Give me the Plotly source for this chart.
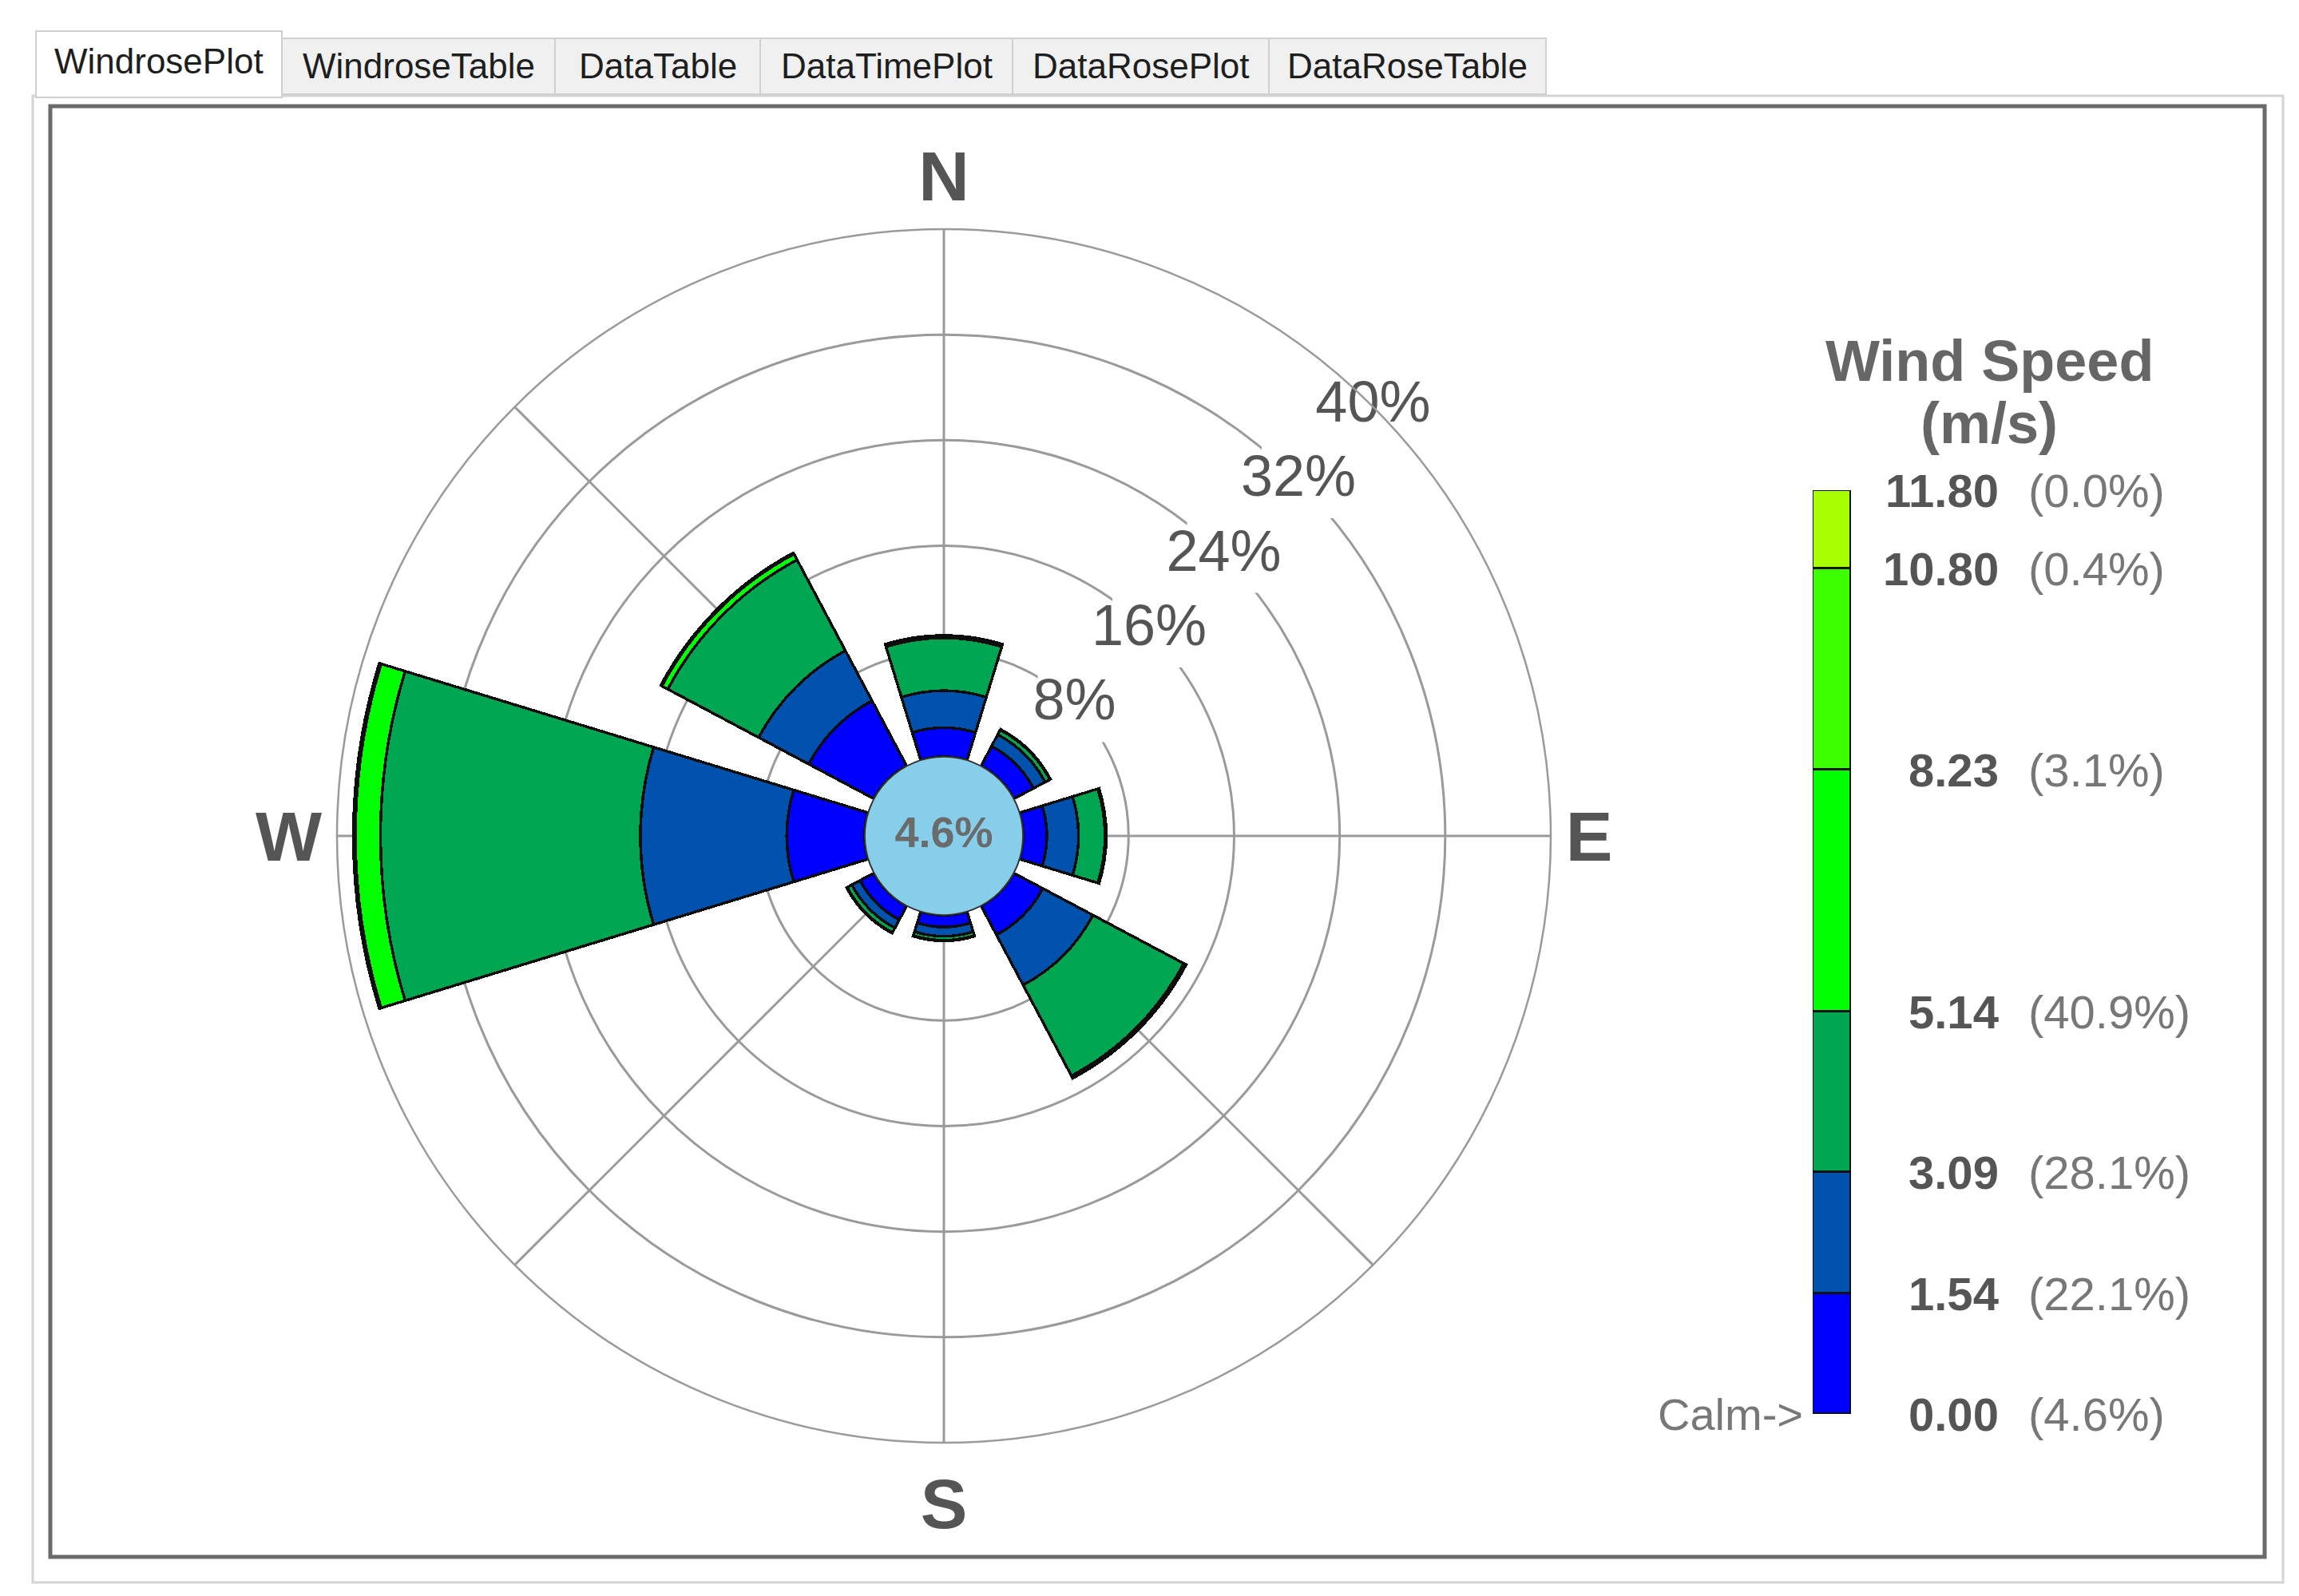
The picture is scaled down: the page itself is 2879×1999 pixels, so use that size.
import plotly.graph_objects as go

# ── Canvas ─────────────────────────────────────────────────────────────────────
W, H = 2879, 1999
FONT = "Liberation Sans, Arial, sans-serif"

# ── Data ───────────────────────────────────────────────────────────────────────
DIRECTIONS = [0, 45, 90, 135, 180, 225, 270, 315]          # N NE E SE S SW W NW
SPEED_EDGES = [0.00, 1.54, 3.09, 5.14, 8.23, 10.80, 11.80]  # m/s
EDGE_PCT = [4.6, 22.1, 28.1, 40.9, 3.1, 0.4, 0.0]           # % shown beside each edge
CALM_PCT = 4.6

# frequency (%) per direction for each speed bin
FREQ_000_154 = [2.2, 1.7, 1.8, 2.5, 0.9, 1.2, 5.9, 5.6]
FREQ_154_309 = [2.8, 1.0, 2.4, 4.3, 0.7, 0.7, 11.1, 4.3]
FREQ_309_514 = [4.0, 0.4, 2.0, 7.8, 0.3, 0.4, 19.7, 7.8]
FREQ_514_823 = [0.2, 0.05, 0.1, 0.2, 0.05, 0.05, 1.9, 0.5]
FREQ_823_1080 = [0.0, 0.0, 0.0, 0.0, 0.0, 0.0, 0.15, 0.1]
FREQ_1080_1180 = [0.0, 0.0, 0.0, 0.0, 0.0, 0.0, 0.0, 0.0]
BIN_FREQS = [FREQ_000_154, FREQ_154_309, FREQ_309_514,
             FREQ_514_823, FREQ_823_1080, FREQ_1080_1180]

RADIAL_TICKS = [8, 16, 24, 32, 40]
TABS = ['WindrosePlot', 'WindroseTable', 'DataTable',
        'DataTimePlot', 'DataRosePlot', 'DataRoseTable']

# ── Styles ─────────────────────────────────────────────────────────────────────
BIN_COLORS = ['#0000FF', '#0052AE', '#00A651', '#00FF00', '#3CFF00', '#A8FF00']
GRID = '#9a9a9a'
CALM_OFFSET = 6.0          # radial room kept for the calm disc
R_MAX = 40
CENTER = (1174, 1039)      # px, from top-left
R_PX = 760                 # outer ring radius, px
BAR_WIDTH = 34


def px(x):
    return x / W


def py(y):
    return 1 - y / H


fig = go.Figure()

# ── Rose ───────────────────────────────────────────────────────────────────────
for lo, hi, freqs, col in zip(SPEED_EDGES[:-1], SPEED_EDGES[1:], BIN_FREQS, BIN_COLORS):
    fig.add_trace(go.Barpolar(
        r=freqs, theta=DIRECTIONS, width=[BAR_WIDTH] * len(DIRECTIONS),
        name=f"{lo:.2f}-{hi:.2f}",
        marker=dict(color=col, line=dict(color='#0d0d0d', width=3.5)),
        showlegend=False,
    ))

# calm disc in the middle
calm_size = 2 * R_PX * CALM_OFFSET / (CALM_OFFSET + R_MAX)
fig.add_trace(go.Scatterpolar(
    r=[-CALM_OFFSET], theta=[0], mode='markers+text',
    text=[f"{CALM_PCT:.1f}%"], textposition='middle center',
    textfont=dict(size=54, color='#6b6b6b', family=FONT, weight='bold'),
    marker=dict(size=calm_size, color='#87CEEB', line=dict(color='#333333', width=2)),
    showlegend=False, hoverinfo='skip',
))

# radial labels sitting on the rings (white patch behind each)
fig.add_trace(go.Scatterpolar(
    r=RADIAL_TICKS, theta=[45] * len(RADIAL_TICKS), mode='markers+text',
    text=[f"{v}%" for v in RADIAL_TICKS], textposition='middle center',
    textfont=dict(size=72, color='#555555', family=FONT),
    marker=dict(symbol='square', size=92, color='white'),
    showlegend=False, hoverinfo='skip',
))

# ── Speed scale bar ────────────────────────────────────────────────────────────
for lo, hi, col in zip(SPEED_EDGES[:-1], SPEED_EDGES[1:], BIN_COLORS):
    fig.add_trace(go.Bar(
        x=[0], y=[hi - lo], xaxis='x2', yaxis='y2',
        marker=dict(color=col, line=dict(color='#111111', width=3)),
        showlegend=False, hoverinfo='skip',
    ))

annotations = []
for edge, pct in zip(SPEED_EDGES, EDGE_PCT):
    annotations.append(dict(
        x=px(2497), y=edge, xref='paper', yref='y2', xanchor='right', yanchor='middle',
        text=f"<b>{edge:.2f}</b>", showarrow=False,
        font=dict(size=58, color='#555555', family=FONT)))
    annotations.append(dict(
        x=px(2530), y=edge, xref='paper', yref='y2', xanchor='left', yanchor='middle',
        text=f"({pct:.1f}%)", showarrow=False,
        font=dict(size=58, color='#777777', family=FONT)))
annotations.append(dict(
    x=px(2252), y=SPEED_EDGES[0], xref='paper', yref='y2', xanchor='right', yanchor='middle',
    text="Calm->", showarrow=False, font=dict(size=56, color='#777777', family=FONT)))
annotations.append(dict(
    x=px(2483), y=py(444), xref='paper', yref='paper', xanchor='center', yanchor='middle',
    text="<b>Wind Speed</b>", showarrow=False, font=dict(size=72, color='#666666', family=FONT)))
annotations.append(dict(
    x=px(2483), y=py(522), xref='paper', yref='paper', xanchor='center', yanchor='middle',
    text="<b>(m/s)</b>", showarrow=False, font=dict(size=72, color='#666666', family=FONT)))

# ── Window chrome: tabs and frame ──────────────────────────────────────────────
TAB_EDGES = [37, 345, 687, 944, 1260, 1581, 1928]
shapes = [
    # outer light panel border
    dict(type='rect', xref='paper', yref='paper', x0=px(33), x1=px(2851), y0=py(1974), y1=py(112),
         line=dict(color='#d4d4d4', width=3), fillcolor='white', layer='below'),
    # inner dark frame
    dict(type='rect', xref='paper', yref='paper', x0=px(55), x1=px(2828), y0=py(1942), y1=py(125),
         line=dict(color='#6a6a6a', width=5), layer='below'),
]
for i, tab in enumerate(TABS):
    x0, x1 = TAB_EDGES[i], TAB_EDGES[i + 1]
    selected = i == 0
    shapes.append(dict(
        type='rect', xref='paper', yref='paper', x0=px(x0), x1=px(x1),
        y0=py(114 if selected else 110), y1=py(31 if selected else 40),
        line=dict(color='#d0d0d0', width=2),
        fillcolor='white' if selected else '#f0f0f0', layer='below'))
    annotations.append(dict(
        x=px((x0 + x1) / 2), y=py(68 if selected else 74), xref='paper', yref='paper',
        text=tab, showarrow=False, xanchor='center', yanchor='middle',
        font=dict(size=44, color='#1e1e1e', family=FONT)))

# ── Layout ─────────────────────────────────────────────────────────────────────
cx, cy = CENTER
fig.update_layout(
    width=W, height=H,
    margin=dict(l=0, r=0, t=0, b=0),
    paper_bgcolor='white', plot_bgcolor='white',
    font=dict(family=FONT),
    barmode='stack', bargap=0,
    polar=dict(
        domain=dict(x=[px(cx - R_PX), px(cx + R_PX)], y=[py(cy + R_PX), py(cy - R_PX)]),
        bgcolor='white',
        barmode='stack',
        radialaxis=dict(
            range=[-CALM_OFFSET, R_MAX], tickvals=RADIAL_TICKS[:-1],
            showticklabels=False, ticks='', showline=False, angle=45,
            gridcolor=GRID, gridwidth=2.5,
        ),
        angularaxis=dict(
            rotation=90, direction='clockwise',
            tickmode='array', tickvals=[0, 90, 135, 180, 225, 270, 315],
            ticktext=['<b>N</b>', '<b>E</b>', '', '<b>S</b>', '', '<b>W</b>', ''],
            tickfont=dict(size=88, color='#555555', family=FONT),
            ticks='', showline=True, linecolor=GRID, linewidth=2.5,
            gridcolor=GRID, gridwidth=2.5,
        ),
    ),
    xaxis2=dict(domain=[px(2262), px(2310)], range=[-0.5, 0.5], visible=False,
                anchor='y2', fixedrange=True),
    yaxis2=dict(domain=[py(1763), py(606)], range=[0, SPEED_EDGES[-1]], visible=False,
                anchor='x2', fixedrange=True),
    shapes=shapes,
    annotations=annotations,
)

fig.write_html("out.html")
